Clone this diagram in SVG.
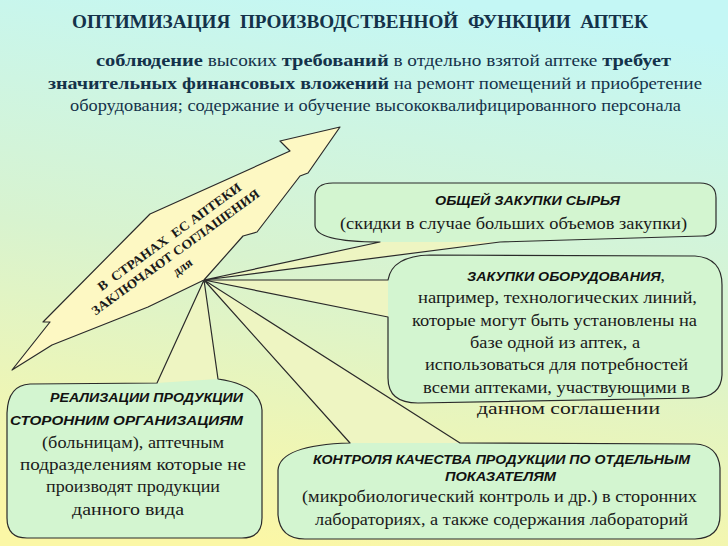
<svg xmlns="http://www.w3.org/2000/svg" width="728" height="546" viewBox="0 0 728 546">
<defs>
<linearGradient id="bg" x1="0.6" y1="0" x2="0.4" y2="1">
<stop offset="0" stop-color="#c4f7f5"/>
<stop offset="0.5" stop-color="#d8f3cf"/>
<stop offset="1" stop-color="#fbf7a6"/>
</linearGradient>
<style>
.ol{fill:none;stroke:#2a2a2a;stroke-width:1.2;stroke-linejoin:round}
.tail{fill:#eef5c2;stroke:none}
.body{fill:#d3f5d0;stroke:none}
.ttl{font-family:"Liberation Serif","Times New Roman",serif;font-weight:bold;fill:#14324a}
.sub{font-family:"Liberation Serif","Times New Roman",serif;fill:#14324a;font-size:16px}
.b{font-weight:bold;font-size:17px}
.hd{font-family:"Liberation Sans",Arial,sans-serif;font-weight:bold;font-style:italic;font-size:13px;fill:#111}
.tx{font-family:"Liberation Serif","Times New Roman",serif;font-size:16px;fill:#1a1a1a}
.bn{font-family:"Liberation Serif","Times New Roman",serif;font-weight:bold;font-size:13px;fill:#1a1a1a}
</style>
</defs>
<rect width="728" height="546" fill="url(#bg)"/>

<g id="title">
<text class="ttl" x="72" y="28" font-size="19" textLength="576" lengthAdjust="spacingAndGlyphs" xml:space="preserve">ОПТИМИЗАЦИЯ  ПРОИЗВОДСТВЕННОЙ  ФУНКЦИИ  АПТЕК</text>
<text class="sub" x="96" y="66" textLength="575" lengthAdjust="spacingAndGlyphs"><tspan class="b">соблюдение</tspan> высоких <tspan class="b">требований</tspan> в отдельно взятой аптеке <tspan class="b">требует</tspan></text>
<text class="sub" x="48" y="89" textLength="654" lengthAdjust="spacingAndGlyphs"><tspan class="b">значительных финансовых вложений</tspan> на ремонт помещений и приобретение</text>
<text class="sub" x="70" y="111" textLength="611" lengthAdjust="spacingAndGlyphs">оборудования; содержание и обучение высококвалифицированного персонала</text>
</g>

<g id="connectors">
<path class="tail" d="M500,242 L204,280 L380,242 Z"/>
<path class="tail" d="M388,317 L204,280 L388,280 Z"/>
<path class="tail" d="M460,443 L204,280 L350,443 Z"/>
<path class="tail" d="M157,383 L204,280 L218,379 Z"/>
</g>

<g id="box1">
<path class="body" d="M315,197 Q315,183 333,183 L700,183 Q716,183 716,198 L716,224 Q716,236 702,236 L500,242 L380,242 Q315,242 315,225 Z"/>
<path class="ol" d="M315,197 Q315,183 333,183 L700,183 Q716,183 716,198 L716,224 Q716,236 702,236 L500,242 L204,280 L380,242 Q315,242 315,225 Z"/>
<text class="hd" x="435" y="205" textLength="185" lengthAdjust="spacingAndGlyphs">ОБЩЕЙ ЗАКУПКИ СЫРЬЯ</text>
<text class="tx" x="340" y="229" textLength="347" lengthAdjust="spacingAndGlyphs">(скидки в случае больших объемов закупки)</text>
</g>

<g id="box2">
<path class="body" d="M388,317 L388,280 Q392,256 430,255 L695,256 Q722,258 722,285 L722,375 Q721,397 695,398 L418,403 Q388,403 388,378 Z"/>
<path class="ol" d="M388,317 L204,280 L388,280 Q392,256 430,255 L695,256 Q722,258 722,285 L722,375 Q721,397 695,398 L418,403 Q388,403 388,378 Z"/>
<text x="467" y="281" textLength="198" lengthAdjust="spacingAndGlyphs"><tspan class="hd">ЗАКУПКИ ОБОРУДОВАНИЯ</tspan><tspan class="tx">,</tspan></text>
<text class="tx" x="418" y="303" textLength="279" lengthAdjust="spacingAndGlyphs">например, технологических линий,</text>
<text class="tx" x="412" y="326" textLength="285" lengthAdjust="spacingAndGlyphs">которые могут быть установлены на</text>
<text class="tx" x="470" y="348" textLength="170" lengthAdjust="spacingAndGlyphs">базе одной из аптек, а</text>
<text class="tx" x="425" y="370" textLength="263" lengthAdjust="spacingAndGlyphs">использоваться для потребностей</text>
<text class="tx" x="423" y="393" textLength="267" lengthAdjust="spacingAndGlyphs">всеми аптеками, участвующими в</text>
<text class="tx" x="477" y="414" textLength="183" lengthAdjust="spacingAndGlyphs">данном соглашении</text>
</g>

<g id="box3">
<path class="body" d="M460,443 L350,443 Q280,445 278,470 L278,515 Q280,539 305,539 L695,539 Q720,538 720,515 L720,468 Q718,445 695,444 Z"/>
<path class="ol" d="M460,443 L204,280 L350,443 Q280,445 278,470 L278,515 Q280,539 305,539 L695,539 Q720,538 720,515 L720,468 Q718,445 695,444 Z"/>
<text class="hd" x="313" y="464" textLength="377" lengthAdjust="spacingAndGlyphs">КОНТРОЛЯ КАЧЕСТВА ПРОДУКЦИИ ПО ОТДЕЛЬНЫМ</text>
<text class="hd" x="445" y="481" textLength="111" lengthAdjust="spacingAndGlyphs">ПОКАЗАТЕЛЯМ</text>
<text class="tx" x="302" y="502" textLength="395" lengthAdjust="spacingAndGlyphs">(микробиологический контроль и др.) в сторонних</text>
<text class="tx" x="315" y="525" textLength="373" lengthAdjust="spacingAndGlyphs">лабораториях, а также содержания лабораторий</text>
</g>

<g id="box4">
<path class="body" d="M157,383 L218,379 Q260,385 262,410 L262,518 Q262,538 242,538 L27,538 Q7,538 7,518 L7,413 Q8,385 30,384 Z"/>
<path class="ol" d="M157,383 L204,280 L218,379 Q260,385 262,410 L262,518 Q262,538 242,538 L27,538 Q7,538 7,518 L7,413 Q8,385 30,384 Z"/>
<text class="hd" x="50" y="402" textLength="193" lengthAdjust="spacingAndGlyphs">РЕАЛИЗАЦИИ ПРОДУКЦИИ</text>
<text class="hd" x="10" y="425" textLength="233" lengthAdjust="spacingAndGlyphs">СТОРОННИМ ОРГАНИЗАЦИЯМ</text>
<text class="tx" x="42" y="448" textLength="182" lengthAdjust="spacingAndGlyphs">(больницам), аптечным</text>
<text class="tx" x="20" y="470" textLength="226" lengthAdjust="spacingAndGlyphs">подразделениям которые не</text>
<text class="tx" x="46" y="492" textLength="174" lengthAdjust="spacingAndGlyphs">производят продукции</text>
<text class="tx" x="72" y="515" textLength="112" lengthAdjust="spacingAndGlyphs">данного вида</text>
</g>

<g id="banner">
<path d="M340,127 L308,173 L300,176 L257,232 L243,236 L204,280 L148,307 L52,345 L12,370 L50,322 L43,322 L150,214 L290,151 L280,141 Z" fill="#fdf8c3" stroke="#2a2a2a" stroke-width="1.2" stroke-linejoin="round"/>
<g transform="translate(172,244) rotate(-36)">
<text class="bn" x="2" y="-3" text-anchor="middle" textLength="174" lengthAdjust="spacingAndGlyphs" xml:space="preserve">В  СТРАНАХ  ЕС АПТЕКИ</text>
<text class="bn" x="-2" y="13" text-anchor="middle" textLength="204" lengthAdjust="spacingAndGlyphs">ЗАКЛЮЧАЮТ СОГЛАШЕНИЯ</text>
<text class="bn" x="-5" y="29" text-anchor="middle" font-size="12">для</text>
</g>
</g>
</svg>
